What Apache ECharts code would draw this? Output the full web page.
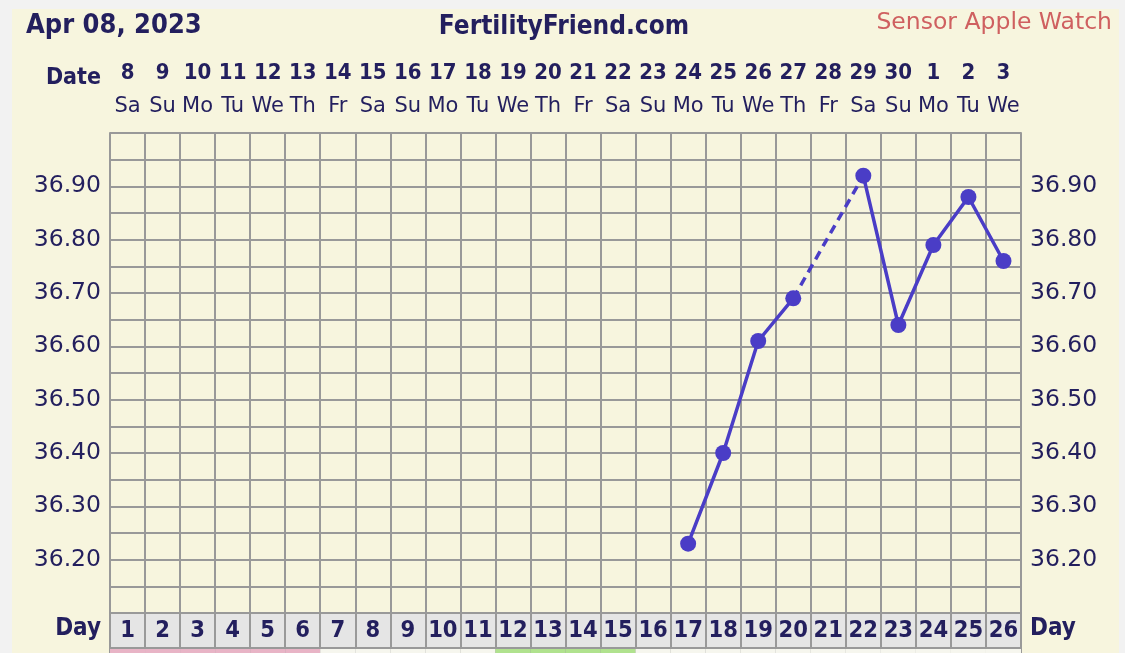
<!DOCTYPE html>
<html><head><meta charset="utf-8">
<script src="https://cdn.jsdelivr.net/npm/echarts@6/dist/echarts.min.js"></script>
<style>html,body{margin:0;padding:0;background:#f2f2f2}#c{width:1125px;height:653px}</style>
</head><body><div id="c"></div><script>
const cycleDays = ['1','2','3','4','5','6','7','8','9','10','11','12','13','14','15','16','17','18','19','20','21','22','23','24','25','26'];
const dates = ['8','9','10','11','12','13','14','15','16','17','18','19','20','21','22','23','24','25','26','27','28','29','30','1','2','3'];
const weekdays = ['Sa','Su','Mo','Tu','We','Th','Fr','Sa','Su','Mo','Tu','We','Th','Fr','Sa','Su','Mo','Tu','We','Th','Fr','Sa','Su','Mo','Tu','We'];
const temps = [null,null,null,null,null,null,null,null,null,null,null,null,null,null,null,null,36.23,36.40,36.61,36.69,null,36.92,36.64,36.79,36.88,36.76];
const cellMarks = ['flow','flow','flow','flow','flow','flow','','','','','','fertile','fertile','fertile','fertile','','','','','','','','','','',''];
const tempMin = 36.1, tempMax = 37.0, tempStep = 0.05;

const INK = '#231f5e', GRIDC = '#999999', LINE = '#4a3dc6';
const BOLD = "'DejaVu Sans Condensed', 'DejaVu Sans', sans-serif";
const REG = "'DejaVu Sans', sans-serif";
const cellColors = {flow:'#e8b4c6', fertile:'#b0e28e', '':'#f6f6ee'};

// dashed bridge over missing temps, derived from temps
const bridge = temps.map(() => null);
temps.forEach((v, i) => {
  if (v === null && i > 0 && i < temps.length - 1 && temps[i-1] !== null && temps[i+1] !== null) {
    bridge[i-1] = temps[i-1]; bridge[i+1] = temps[i+1];
  }
});

const yLab = v => {
  const c = Math.round(v * 100);
  if (c % 10 !== 0 || c === Math.round(tempMin*100) || c === Math.round(tempMax*100)) return '';
  return (c / 100).toFixed(2);
};

const L = 110, W = 911;
const chart = echarts.init(document.getElementById('c'), null, {renderer: 'canvas'});
chart.setOption({
  backgroundColor: '#f2f2f2',
  animation: false,
  graphic: [
    {type: 'rect', z: -10, shape: {x: 12, y: 9, width: 1107, height: 660}, style: {fill: '#f7f5de'}},
    {type: 'text', x: 26, y: 26, style: {text: 'Apr 08, 2023', font: "bold 27px " + BOLD, fill: INK, align: 'left', verticalAlign: 'middle'}},
    {type: 'text', x: 564, y: 27, style: {text: 'FertilityFriend.com', font: "bold 26px " + BOLD, fill: INK, align: 'center', verticalAlign: 'middle'}},
    {type: 'text', x: 1112, y: 23, style: {text: 'Sensor Apple Watch', font: "23.5px 'DejaVu Sans'", fill: '#cf6060', align: 'right', verticalAlign: 'middle'}},
    {type: 'text', x: 101, y: 78, style: {text: 'Date', font: "bold 23px " + BOLD, fill: INK, align: 'right', verticalAlign: 'middle'}},
    {type: 'text', x: 101, y: 629, style: {text: 'Day', font: "bold 24px " + BOLD, fill: INK, align: 'right', verticalAlign: 'middle'}},
    {type: 'text', x: 1030, y: 629, style: {text: 'Day', font: "bold 24px " + BOLD, fill: INK, align: 'left', verticalAlign: 'middle'}}
  ],
  grid: [
    {left: L, top: 133, width: W, height: 480, show: false},
    {left: L, top: 613, width: W, height: 35, show: true, backgroundColor: '#e5e5e5', borderColor: GRIDC, borderWidth: 2},
    {left: L, top: 649, width: W, height: 30, show: false}
  ],
  xAxis: [
    {gridIndex: 0, type: 'category', data: cycleDays, boundaryGap: true, position: 'bottom',
     axisLine: {show: true, lineStyle: {color: GRIDC, width: 2}}, axisTick: {show: false}, axisLabel: {show: false},
     splitLine: {show: true, interval: 0, lineStyle: {color: GRIDC, width: 2}}},
    {gridIndex: 0, type: 'category', data: cycleDays, boundaryGap: true, position: 'top',
     axisLine: {show: false}, axisTick: {show: false}, splitLine: {show: false},
     axisLabel: {show: true, interval: 0, margin: 9,
       formatter: (v, i) => '{d|' + dates[i] + '}\n{w|' + weekdays[i] + '}',
       rich: {
         d: {fontFamily: BOLD, fontWeight: 'bold', fontSize: 22, color: INK, lineHeight: 34, align: 'center'},
         w: {fontFamily: REG, fontSize: 21, color: INK, lineHeight: 34, align: 'center'}
       }}},
    {gridIndex: 1, type: 'category', data: cycleDays, boundaryGap: true, position: 'bottom',
     axisLine: {show: false}, axisTick: {show: false},
     splitLine: {show: true, interval: 0, lineStyle: {color: GRIDC, width: 2}},
     axisLabel: {show: true, inside: true, interval: 0, margin: 17, verticalAlign: 'middle',
       fontFamily: BOLD, fontWeight: 'bold', fontSize: 23.5, color: INK}},
    {gridIndex: 2, type: 'category', data: cycleDays, boundaryGap: true, position: 'bottom',
     axisLine: {show: false}, axisTick: {show: false}, axisLabel: {show: false},
     splitLine: {show: true, interval: 0, lineStyle: {color: GRIDC, width: 2}}}
  ],
  yAxis: [
    {gridIndex: 0, type: 'value', min: tempMin, max: tempMax, interval: tempStep, position: 'left',
     axisLine: {show: true, lineStyle: {color: GRIDC, width: 2}}, axisTick: {show: false},
     splitLine: {show: true, lineStyle: {color: GRIDC, width: 2}},
     axisLabel: {show: true, margin: 9, formatter: yLab, fontFamily: REG, fontSize: 23.5, color: INK, showMinLabel: true, showMaxLabel: true}},
    {gridIndex: 0, type: 'value', min: tempMin, max: tempMax, interval: tempStep, position: 'right',
     axisLine: {show: true, lineStyle: {color: GRIDC, width: 2}}, axisTick: {show: false},
     splitLine: {show: false},
     axisLabel: {show: true, margin: 9, formatter: yLab, fontFamily: REG, fontSize: 23.5, color: INK, align: 'left'}},
    {gridIndex: 1, type: 'value', min: 0, max: 1, show: false},
    {gridIndex: 2, type: 'value', min: 0, max: 1, show: false}
  ],
  series: [
    {type: 'bar', xAxisIndex: 3, yAxisIndex: 3, barWidth: '100%', barGap: 0, silent: true, z: 1,
     data: cellMarks.map(m => ({value: 1, itemStyle: {color: cellColors[m]}}))},
    {type: 'line', xAxisIndex: 0, yAxisIndex: 0, data: bridge, connectNulls: true, showSymbol: false, symbol: 'none',
     lineStyle: {color: LINE, width: 3.5, type: [9, 6]}, z: 3},
    {type: 'line', xAxisIndex: 0, yAxisIndex: 0, data: temps, connectNulls: false,
     symbol: 'circle', symbolSize: 16, showAllSymbol: true,
     itemStyle: {color: LINE}, lineStyle: {color: LINE, width: 3.5}, z: 4}
  ]
});
</script></body></html>
